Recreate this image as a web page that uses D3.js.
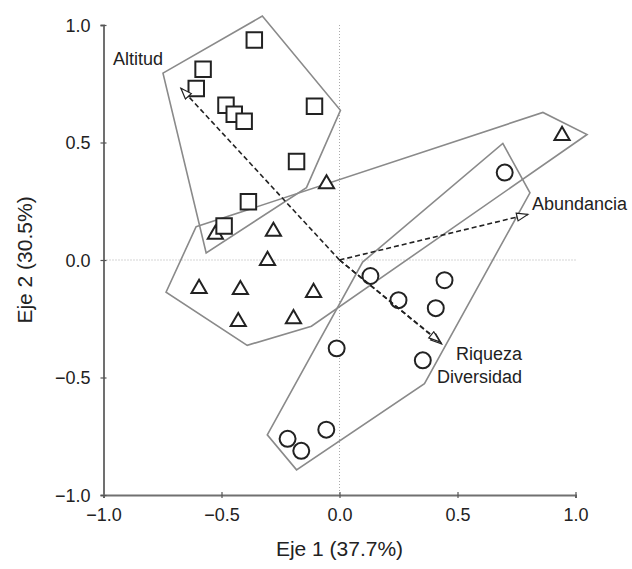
<!DOCTYPE html>
<html>
<head>
<meta charset="utf-8">
<script src="https://cdn.jsdelivr.net/npm/d3@7"></script>
<style>
  body { margin: 0; background: #fff; }
  svg text { font-family: "Liberation Sans", Arial, sans-serif; fill: #222; }
</style>
</head>
<body>
<div id="viz"></div>
<script>
// site scores
var squares = [[-0.361, 0.936], [-0.578, 0.812], [-0.607, 0.73], [-0.481, 0.658], [-0.446, 0.62],
  [-0.404, 0.59], [-0.106, 0.654], [-0.182, 0.419], [-0.386, 0.248], [-0.489, 0.145]];
var triangles = [[0.943, 0.536], [-0.055, 0.33], [-0.526, 0.115], [-0.280, 0.128], [-0.305, 0.004],
  [-0.595, -0.115], [-0.420, -0.12], [-0.110, -0.132], [-0.429, -0.256], [-0.195, -0.244]];
var circles = [[0.700, 0.372], [0.131, -0.068], [0.250, -0.171], [0.408, -0.205], [0.445, -0.086],
  [-0.012, -0.376], [0.353, -0.427], [-0.056, -0.722], [-0.220, -0.761], [-0.162, -0.812]];

// convex hulls around each group
var squareHull = [[-0.748, 0.795], [-0.327, 1.038], [0.004, 0.637], [-0.140, 0.308], [-0.565, 0.030]];
var triangleHull = [[-0.608, 0.141], [0.862, 0.628], [1.049, 0.534], [-0.119, -0.282], [-0.391, -0.363], [-0.735, -0.137]];
var circleHull = [[0.692, 0.496], [0.807, 0.286], [0.360, -0.526], [-0.182, -0.893], [-0.306, -0.744], [0.098, -0.009]];

// environmental vectors
var vecNames = ["Altitud", "Abundancia", "Riqueza", "Diversidad"];
var vecX = [-0.672, 0.798, 0.433, 0.425];
var vecY = [0.731, 0.194, -0.357, -0.348];

var xTicks = [-1.0, -0.5, 0.0, 0.5, 1.0];
var yTicks = [-1.0, -0.5, 0.0, 0.5, 1.0];

var margin = { top: 25, left: 103.5 },
  width = 472,
  height = 470;

var x = d3.scaleLinear().domain([-1, 1]).range([0, width]);
var y = d3.scaleLinear().domain([-1, 1]).range([height, 0]);

var svg = d3.select("#viz").append("svg")
  .attr("width", 632)
  .attr("height", 569);

svg.append("defs").append("marker")
  .attr("id", "head")
  .attr("markerUnits", "userSpaceOnUse")
  .attr("markerWidth", 14).attr("markerHeight", 12)
  .attr("refX", 12).attr("refY", 5)
  .attr("orient", "auto")
  .append("path")
  .attr("d", "M1,1 L12,5 L1,9 Z")
  .attr("fill", "#fff")
  .attr("stroke", "#222")
  .attr("stroke-width", 1.2);

var g = svg.append("g").attr("transform", "translate(" + margin.left + "," + margin.top + ")");

// zero lines
g.append("line")
  .attr("x1", x(0)).attr("x2", x(0)).attr("y1", 0).attr("y2", height)
  .attr("stroke", "#aaa").attr("stroke-width", 1).attr("stroke-dasharray", "1,2");
g.append("line")
  .attr("x1", 0).attr("x2", width).attr("y1", y(0)).attr("y2", y(0))
  .attr("stroke", "#aaa").attr("stroke-width", 1).attr("stroke-dasharray", "1,2");

// axes
var fmt = d3.format(".1f");
var xAxis = g.append("g")
  .attr("transform", "translate(0," + height + ")")
  .call(d3.axisBottom(x).tickValues(xTicks).tickFormat(fmt).tickSizeOuter(0).tickSize(3));
var yAxis = g.append("g")
  .call(d3.axisLeft(y).tickValues(yTicks).tickFormat(fmt).tickSizeOuter(0).tickSize(3));
[xAxis, yAxis].forEach(function (a) {
  a.select(".domain").attr("stroke", "#707070").attr("stroke-width", 2);
  a.selectAll(".tick line").attr("stroke", "#555").attr("stroke-width", 1.2);
  a.selectAll(".tick text").attr("font-size", 18).attr("fill", "#222")
    .style("font-family", "'Liberation Sans', Arial, sans-serif");
});
xAxis.selectAll(".tick line").attr("y1", -3);
yAxis.selectAll(".tick line").attr("x1", 3);
xAxis.selectAll(".tick text").attr("dy", "0").attr("y", 26);
yAxis.selectAll(".tick text").attr("x", -13).attr("dy", "0.35em");

// hulls
var line = d3.line().x(function (d) { return x(d[0]); }).y(function (d) { return y(d[1]); })
  .curve(d3.curveLinearClosed);
[squareHull, triangleHull, circleHull].forEach(function (h) {
  g.append("path")
    .datum(h)
    .attr("d", line)
    .attr("fill", "none")
    .attr("stroke", "#8a8a8a")
    .attr("stroke-width", 1.6);
});

// points
var sym = d3.symbol();
var groups = [
  { data: triangles, type: d3.symbolTriangle, size: 100 },
  { data: squares, type: d3.symbolSquare, size: 240 },
  { data: circles, type: d3.symbolCircle, size: 200 }
];
groups.forEach(function (grp) {
  g.selectAll(null)
    .data(grp.data)
    .enter().append("path")
    .attr("transform", function (d) {
      var dy = grp.type === d3.symbolTriangle ? 1.5 : 0;
      return "translate(" + x(d[0]) + "," + (y(d[1]) + dy) + ")";
    })
    .attr("d", sym.type(grp.type).size(grp.size))
    .attr("fill", "#fff")
    .attr("stroke", "#222")
    .attr("stroke-width", 2);
});

// vectors
vecNames.forEach(function (name, i) {
  g.append("line")
    .attr("x1", x(0)).attr("y1", y(0))
    .attr("x2", x(vecX[i])).attr("y2", y(vecY[i]))
    .attr("stroke", "#222")
    .attr("stroke-width", 1.6)
    .attr("stroke-dasharray", "5,3")
    .attr("marker-end", "url(#head)");
});

// vector labels (page coordinates)
var labelXY = {
  "Altitud": [113, 65],
  "Abundancia": [532, 210],
  "Riqueza": [456, 360],
  "Diversidad": [437, 383]
};
vecNames.forEach(function (name) {
  svg.append("text")
    .attr("x", labelXY[name][0]).attr("y", labelXY[name][1])
    .attr("font-size", 18)
    .text(name);
});

// axis titles
svg.append("text")
  .attr("x", margin.left + x(0))
  .attr("y", 556)
  .attr("text-anchor", "middle")
  .attr("font-size", 21)
  .text("Eje 1 (37.7%)");
svg.append("text")
  .attr("transform", "translate(32," + (margin.top + y(0)) + ") rotate(-90)")
  .attr("text-anchor", "middle")
  .attr("font-size", 21)
  .text("Eje 2 (30.5%)");
</script>
</body>
</html>
